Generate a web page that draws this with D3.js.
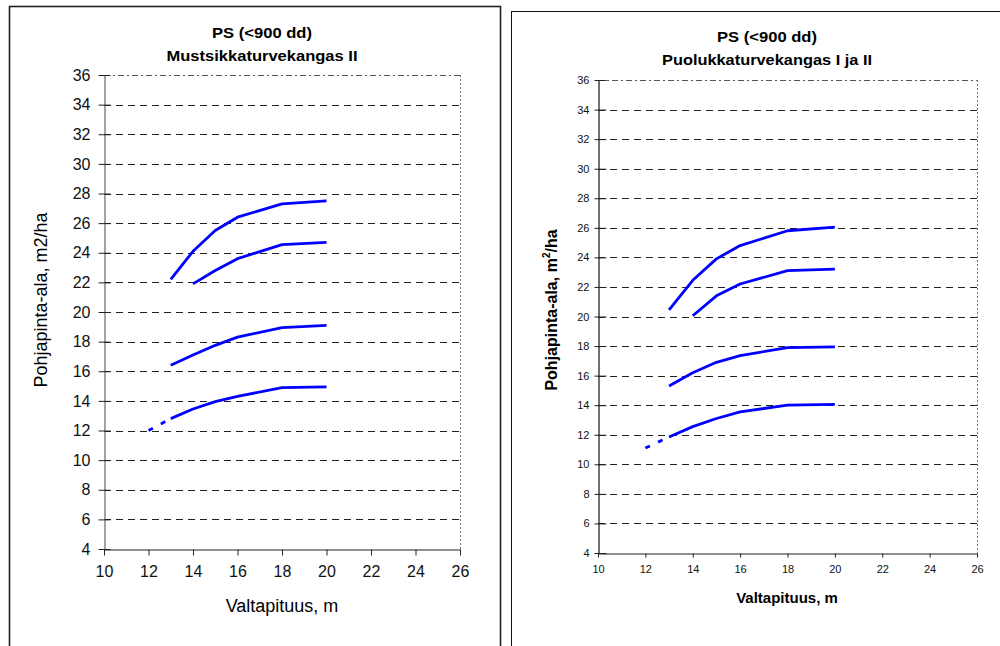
<!DOCTYPE html>
<html>
<head>
<meta charset="utf-8">
<script src="https://cdn.jsdelivr.net/npm/d3@7/dist/d3.min.js"></script>
<style>
  html, body { margin: 0; padding: 0; background: #fff; }
  svg { display: block; font-family: "Liberation Sans", Arial, sans-serif; }
</style>
</head>
<body>
<svg id="chart" width="1000" height="646"></svg>
<script>
// Dominant height (m) at which each basal-area curve is given
const heights = [12, 13, 14, 15, 16, 18, 20];

// Mustsikkaturvekangas II: basal area, m2/ha (null = no value)
const mtA = [null, 22.2, 24.1, 25.5, 26.4, 27.3, 27.5];
const mtB = [null, null, 21.9, 22.8, 23.6, 24.55, 24.7];
const mtC = [null, 16.4, 17.1, 17.75, 18.3, 18.95, 19.1];
const mtD = [12.0, 12.8, 13.45, 13.95, 14.3, 14.9, 14.95];

// Puolukkaturvekangas I ja II: basal area, m2/ha
const ptA = [null, 20.45, 22.45, 23.9, 24.8, 25.8, 26.05];
const ptB = [null, null, 20.05, 21.4, 22.2, 23.1, 23.2];
const ptC = [null, 15.3, 16.2, 16.9, 17.35, 17.9, 17.95];
const ptD = [11.1, 11.85, 12.55, 13.1, 13.55, 14.0, 14.05];

// Portion of a curve below this height is an extrapolation, drawn dashed
const extrapolatedBelow = 13;

// Axis ticks
const xTicks = [10, 12, 14, 16, 18, 20, 22, 24, 26];
const yTicks = [4, 6, 8, 10, 12, 14, 16, 18, 20, 22, 24, 26, 28, 30, 32, 34, 36];
const gridTicks = [6, 8, 10, 12, 14, 16, 18, 20, 22, 24, 26, 28, 30, 32, 34];

const titleLine1 = "PS (<900 dd)";
const svg = d3.select("#chart");

function drawPanel(o) {
  const g = svg.append("g");

  // panel frame
  g.append("rect")
    .attr("x", o.frame[0]).attr("y", o.frame[1])
    .attr("width", o.frame[2]).attr("height", o.frame[3])
    .attr("fill", "#fff").attr("stroke", o.frameColor).attr("stroke-width", o.frameWidth);

  const x = d3.scaleLinear().domain([10, 26]).range(o.xr);
  const y = d3.scaleLinear().domain([4, 36]).range(o.yr);

  // horizontal dashed gridlines
  g.append("g").selectAll("line").data(gridTicks).join("line")
    .attr("x1", x(10)).attr("x2", x(26))
    .attr("y1", d => Math.round(y(d)) + 0.5).attr("y2", d => Math.round(y(d)) + 0.5)
    .attr("stroke", "#222").attr("stroke-width", 1)
    .attr("stroke-dasharray", "7,5");

  // plot area top edge and right edge
  g.append("line")
    .attr("x1", x(10)).attr("x2", x(26))
    .attr("y1", Math.round(y(36)) + 0.5).attr("y2", Math.round(y(36)) + 0.5)
    .attr("stroke", "#555").attr("stroke-dasharray", "6,3,2,3");
  g.append("line")
    .attr("x1", Math.round(x(26)) + 0.5).attr("x2", Math.round(x(26)) + 0.5)
    .attr("y1", y(36)).attr("y2", y(4))
    .attr("stroke", "#777").attr("stroke-dasharray", "2,2");

  // y axis
  const ya = g.append("g")
    .attr("transform", `translate(${Math.round(x(10)) + 0.5},0)`)
    .call(d3.axisLeft(y).tickValues(yTicks).tickSize(o.yTickOut).tickPadding(o.yPad).tickSizeOuter(0));
  ya.select(".domain").attr("stroke", o.axisColor).attr("stroke-width", 1.2);
  ya.selectAll(".tick line").attr("x2", -o.yTickOut).attr("x1", o.yTickIn).attr("stroke", "#222");
  ya.selectAll(".tick text").attr("font-size", o.tickFont).attr("fill", "#111")
    .attr("font-family", "Liberation Sans, Arial, sans-serif");

  // x axis
  const xa = g.append("g")
    .attr("transform", `translate(0,${Math.round(y(4)) + 0.5})`)
    .call(d3.axisBottom(x).tickValues(xTicks).tickSize(o.xTickOut).tickPadding(o.xPad).tickSizeOuter(0));
  xa.select(".domain").attr("stroke", "#222").attr("stroke-width", 1.2);
  xa.selectAll(".tick line").attr("stroke", "#222");
  xa.selectAll(".tick text").attr("font-size", o.tickFont).attr("fill", "#111")
    .attr("font-family", "Liberation Sans, Arial, sans-serif");

  // curves: solid part and dashed extrapolation
  const line = d3.line().x(d => x(d[0])).y(d => y(d[1]));
  o.series.forEach(vals => {
    const pts = heights.map((h, i) => [h, vals[i]]).filter(d => d[1] !== null);
    const solid = pts.filter(d => d[0] >= extrapolatedBelow);
    const dashed = pts.filter(d => d[0] <= extrapolatedBelow);
    g.append("path").attr("d", line(solid))
      .attr("fill", "none").attr("stroke", "#0000ff").attr("stroke-width", 2.8)
      .attr("stroke-linejoin", "round");
    if (dashed.length > 1) {
      g.append("path").attr("d", line(dashed))
        .attr("fill", "none").attr("stroke", "#0000ff").attr("stroke-width", 2.8)
        .attr("stroke-dasharray", "5,9");
    }
  });

  // titles
  [titleLine1, o.title2].forEach((t, i) => {
    g.append("text").attr("x", o.titleX).attr("y", o.titleY[i])
      .attr("text-anchor", "middle").attr("font-weight", "bold").attr("font-size", 15)
      .attr("textLength", o.titleLen[i]).attr("lengthAdjust", "spacingAndGlyphs")
      .text(t);
  });

  // x axis title
  g.append("text").attr("x", o.xTitle[0]).attr("y", o.xTitle[1])
    .attr("text-anchor", "middle").attr("font-size", o.xTitleFont)
    .attr("font-weight", o.axisTitleWeight).text("Valtapituus, m");

  // y axis title
  const yt = g.append("text")
    .attr("transform", `translate(${o.yTitle[0]},${o.yTitle[1]}) rotate(-90)`)
    .attr("text-anchor", "middle").attr("font-size", o.yTitleFont)
    .attr("font-weight", o.axisTitleWeight);
  if (o.superscript) {
    yt.append("tspan").text("Pohjapinta-ala, m");
    yt.append("tspan").attr("font-size", 10).attr("dy", -7).text("2");
    yt.append("tspan").attr("dy", 7).text("/ha");
  } else {
    yt.text("Pohjapinta-ala, m2/ha");
  }
}

drawPanel({
  frame: [9.5, 6.5, 491, 660], frameColor: "#222", frameWidth: 1.6,
  xr: [104, 460], yr: [549, 75],
  axisColor: "#666",
  yTickOut: 6, yTickIn: 6, yPad: 8, xTickOut: 6, xPad: 10,
  tickFont: 16,
  series: [mtA, mtB, mtC, mtD],
  title2: "Mustsikkaturvekangas II",
  titleX: 262, titleY: [38, 61], titleLen: [100, 191],
  xTitle: [282, 612], yTitle: [47, 300],
  xTitleFont: 18, yTitleFont: 18, axisTitleWeight: "normal", superscript: false
});

drawPanel({
  frame: [511.5, 11.5, 520, 660], frameColor: "#111", frameWidth: 1,
  xr: [598, 977], yr: [553, 80],
  axisColor: "#111",
  yTickOut: 4, yTickIn: 8, yPad: 5, xTickOut: 4, xPad: 8,
  tickFont: 11,
  series: [ptA, ptB, ptC, ptD],
  title2: "Puolukkaturvekangas I ja II",
  titleX: 767, titleY: [42, 65], titleLen: [100, 210],
  xTitle: [787, 603], yTitle: [557, 310],
  xTitleFont: 15, yTitleFont: 16, axisTitleWeight: "bold", superscript: true
});
</script>
</body>
</html>
